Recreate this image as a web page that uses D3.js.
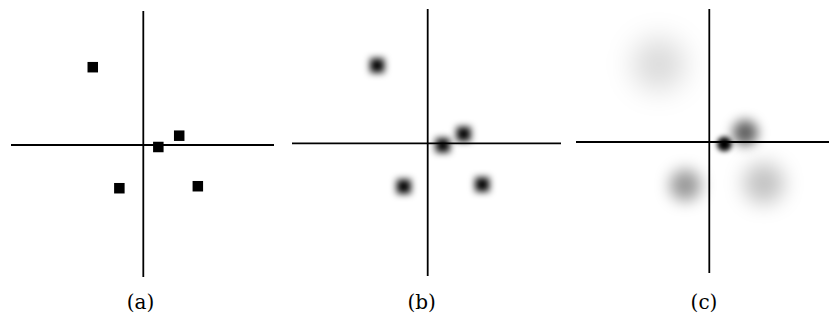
<!DOCTYPE html>
<html>
<head>
<meta charset="utf-8">
<script src="https://cdn.jsdelivr.net/npm/d3@7"></script>
<style>
  html, body { margin: 0; padding: 0; background: #fff; }
  svg { display: block; }
</style>
</head>
<body>
<svg id="chart" width="829" height="320"></svg>
<script>
// Point positions (shared by all three panels), in axis units
const pointIds = ["p1", "p2", "p3", "p4", "p5"];
const xValues = [-3.8, 1.13, 2.7, -1.8, 4.1];
const yValues = [5.85, -0.15, 0.7, -3.25, -3.1];
const panelLabels = ["(a)", "(b)", "(c)"];
const panelStyles = ["square", "blur", "depth"];

const points = pointIds.map((id, i) => ({ id, x: xValues[i], y: yValues[i] }));

// Panel frames: origin and axis-line extents in pixels
const panels = [
  { cx: 143.3, cy: 145.0, left: 11,  right: 274, top: 11, bottom: 277, labelX: 140.5 },
  { cx: 427.7, cy: 143.3, left: 292, right: 561, top: 9,  bottom: 276, labelX: 421.7 },
  { cx: 709.3, cy: 142.0, left: 576, right: 832, top: 9,  bottom: 273, labelX: 704.0 }
];

const unitPx = 13.3;           // pixels per axis unit
const squareSize = 10.5;       // sharp square side
const blobSize = 14;           // side of the shape that gets blurred
const flatBlur = 3.6;          // blur of panel (b)
// Panel (c): the spot spreads with distance from the origin,
// keeping roughly the same amount of ink
const spreadBase = 6;          // px
const spreadPerUnit = 5.4;     // px per axis unit of distance
const inkRadius = 14.5;        // px

const svg = d3.select("#chart");
const defs = svg.append("defs");

function addBlur(id, sd) {
  const f = defs.append("filter")
    .attr("id", id)
    .attr("filterUnits", "userSpaceOnUse")
    .attr("x", -200).attr("y", -200)
    .attr("width", 1300).attr("height", 800);
  f.append("feGaussianBlur").attr("stdDeviation", sd);
}

panels.forEach((p, pi) => {
  const x = d3.scaleLinear().domain([-10, 10]).range([p.cx - 10 * unitPx, p.cx + 10 * unitPx]);
  const y = d3.scaleLinear().domain([-10, 10]).range([p.cy + 10 * unitPx, p.cy - 10 * unitPx]);
  const g = svg.append("g").attr("class", "panel-" + pi);
  const style = panelStyles[pi];

  // Marks under the axes
  const marks = g.append("g").attr("class", "marks");
  points.forEach(d => {
    const filterId = `blur-${pi}-${d.id}`;
    if (style === "square") {
      marks.append("rect")
        .attr("x", x(d.x) - squareSize / 2)
        .attr("y", y(d.y) - squareSize / 2)
        .attr("width", squareSize)
        .attr("height", squareSize)
        .attr("fill", "#000");
    } else if (style === "blur") {
      addBlur(filterId, flatBlur);
      marks.append("rect")
        .attr("x", x(d.x) - blobSize / 2)
        .attr("y", y(d.y) - blobSize / 2)
        .attr("width", blobSize)
        .attr("height", blobSize)
        .attr("fill", "#000")
        .attr("filter", `url(#${filterId})`);
    } else {
      const dist = Math.hypot(d.x, d.y);
      const spread = spreadBase + spreadPerUnit * dist;
      const sd = Math.max(1.5, 0.35 * spread - 1.5);
      const alpha = Math.min(1, (inkRadius / spread) ** 2 / 0.77);
      addBlur(filterId, sd);
      marks.append("circle")
        .attr("cx", x(d.x))
        .attr("cy", y(d.y))
        .attr("r", 0.6 * spread)
        .attr("fill", "#000")
        .attr("fill-opacity", alpha)
        .attr("filter", `url(#${filterId})`);
    }
  });

  // Axes through the origin
  g.append("line")
    .attr("x1", p.left).attr("x2", p.right)
    .attr("y1", y(0)).attr("y2", y(0))
    .attr("stroke", "#000").attr("stroke-width", 1.8);
  g.append("line")
    .attr("x1", x(0)).attr("x2", x(0))
    .attr("y1", p.top).attr("y2", p.bottom)
    .attr("stroke", "#000").attr("stroke-width", 1.8);

  g.append("text")
    .attr("x", p.labelX)
    .attr("y", 309)
    .attr("text-anchor", "middle")
    .attr("font-family", "'DejaVu Serif', serif")
    .attr("font-size", 20)
    .attr("fill", "#000")
    .text(panelLabels[pi]);
});
</script>
</body>
</html>
